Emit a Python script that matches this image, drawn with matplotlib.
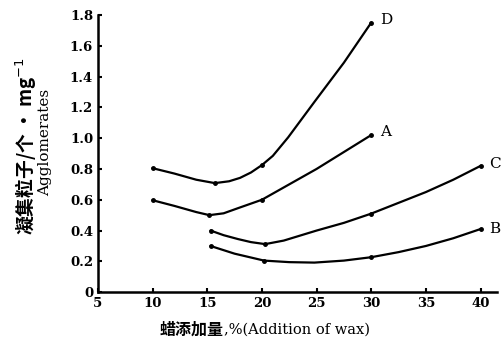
import matplotlib
matplotlib.use("Agg")
import matplotlib.pyplot as plt

plt.rcParams['font.family'] = ['DejaVu Serif', 'Noto Sans CJK SC']

# curve points (x = wax addition %, y = agglomerates)
d_x = [10, 12, 14, 15.7, 17, 18, 19, 20, 21, 22.4, 24.8, 27.5, 30]
d_y = [0.805, 0.77, 0.73, 0.708, 0.72, 0.742, 0.777, 0.825, 0.885, 1.005, 1.235, 1.49, 1.75]
d_marks = [0, 3, 7, 12]

a_x = [10, 12, 14, 15.2, 16.5, 17.8, 20, 22.5, 25, 27.5, 30]
a_y = [0.597, 0.56, 0.52, 0.50, 0.512, 0.545, 0.60, 0.70, 0.80, 0.91, 1.02]
a_marks = [0, 3, 6, 10]

c_x = [15.3, 16.5, 17.8, 19, 20.3, 22, 25, 27.5, 30, 32.5, 35, 37.5, 40]
c_y = [0.40, 0.37, 0.345, 0.325, 0.312, 0.335, 0.40, 0.45, 0.51, 0.58, 0.65, 0.73, 0.82]
c_marks = [0, 4, 8, 12]

b_x = [15.3, 17.5, 20.2, 22.5, 24.8, 27.5, 30, 32.5, 35, 37.5, 40]
b_y = [0.30, 0.25, 0.205, 0.195, 0.192, 0.205, 0.227, 0.26, 0.30, 0.35, 0.41]
b_marks = [0, 2, 6, 10]

x_ticks = [5, 10, 15, 20, 25, 30, 35, 40]
y_ticks = [0, 0.2, 0.4, 0.6, 0.8, 1.0, 1.2, 1.4, 1.6, 1.8]
y_ticklabels = ['0', '0.2', '0.4', '0.6', '0.8', '1.0', '1.2', '1.4', '1.6', '1.8']

fig = plt.figure(figsize=(5.02, 3.47), dpi=100)
ax = fig.add_axes([0.195, 0.158, 0.795, 0.799])

curves = [(d_x, d_y, d_marks, 'D', 0.02), (a_x, a_y, a_marks, 'A', 0.02),
          (c_x, c_y, c_marks, 'C', 0.01), (b_x, b_y, b_marks, 'B', 0.0)]
for xs, ys, mk, name, dy in curves:
    ax.plot(xs, ys, color='black', lw=1.6, marker='o', markersize=2.5,
            markevery=mk, solid_capstyle='round', solid_joinstyle='round')
    ax.text(xs[-1] + 0.8, ys[-1] + dy, name, fontsize=11, ha='left', va='center',
            family='DejaVu Serif', clip_on=False)

ax.set_xlim(5, 41.5)
ax.set_ylim(0, 1.8)
ax.set_xticks(x_ticks)
ax.set_yticks(y_ticks)
ax.set_yticklabels(y_ticklabels)
for s in ['top', 'right']:
    ax.spines[s].set_visible(False)
for s in ['left', 'bottom']:
    ax.spines[s].set_linewidth(1.8)
ax.tick_params(direction='in', length=3, width=1.5, labelsize=9.5)
for lab in ax.get_xticklabels() + ax.get_yticklabels():
    lab.set_fontweight('bold')

# x label: Chinese part bold, Latin part serif
fig.text(224 / 502, 1 - 330 / 347, '蜡添加量', fontsize=11.5, fontweight='bold',
         family='Noto Sans CJK SC', ha='right', va='center')
fig.text(224 / 502, 1 - 330 / 347, ',%(Addition of wax)', fontsize=10.5,
         family='DejaVu Serif', ha='left', va='center')

# y label: two rotated lines
fig.text(26 / 502, 1 - 146 / 347, '凝集粒子/个 · mg$^{-1}$', fontsize=13.5,
         fontweight='bold', family='Noto Sans CJK SC', rotation=90,
         ha='center', va='center')
fig.text(45 / 502, 1 - 142 / 347, 'Agglomerates', fontsize=11,
         family='DejaVu Serif', rotation=90, ha='center', va='center')

fig.savefig('out.png', dpi=100)
